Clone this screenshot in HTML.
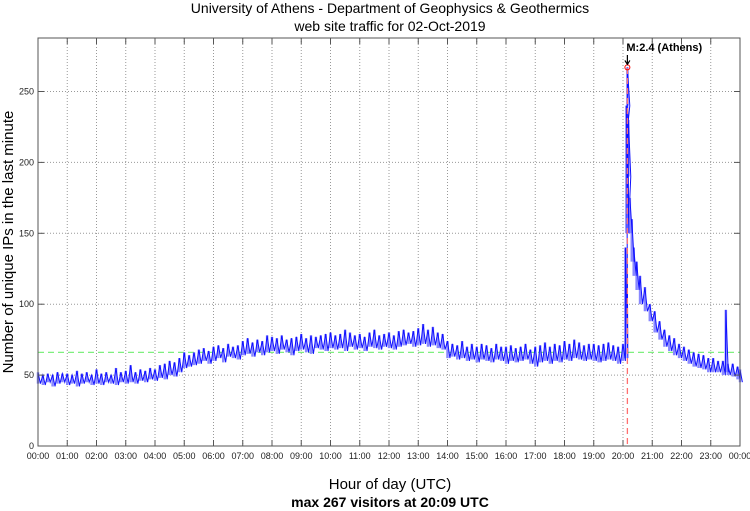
<!DOCTYPE html>
<html><head><meta charset="utf-8"><style>
html,body{margin:0;padding:0;background:#fff;}
svg{display:block;font-family:"Liberation Sans",sans-serif;}
</style></head><body>
<svg id="chart" width="750" height="511" viewBox="0 0 750 511" xmlns="http://www.w3.org/2000/svg">
<text x="390" y="13" font-size="14" text-anchor="middle">University of Athens - Department of Geophysics &amp; Geothermics</text>
<text x="390" y="31" font-size="14" text-anchor="middle">web site traffic for 02-Oct-2019</text>
<text x="390" y="489" font-size="15" text-anchor="middle">Hour of day (UTC)</text>
<text x="390" y="507" font-size="14" font-weight="bold" text-anchor="middle">max 267 visitors at 20:09 UTC</text>
<text transform="translate(13,242) rotate(-90)" font-size="15" text-anchor="middle">Number of unique IPs in the last minute</text>
<g id="grid"></g>
<g id="series"></g>
<g id="frame"></g>
</svg>
<script>
const xTickLabels=["00:00","01:00","02:00","03:00","04:00","05:00","06:00","07:00","08:00","09:00","10:00","11:00","12:00","13:00","14:00","15:00","16:00","17:00","18:00","19:00","20:00","21:00","22:00","23:00","00:00"];
const yTicks=[0,50,100,150,200,250];
const minutes=[0,10,20,30,40,50,60,70,80,90,100,110,120,130,140,150,160,170,180,190,200,210,220,230,240,250,260,270,280,290,300,310,320,330,340,350,360,370,380,390,400,410,420,430,440,450,460,470,480,490,500,510,520,530,540,550,560,570,580,590,600,610,620,630,640,650,660,670,680,690,700,710,720,730,740,750,760,770,780,790,800,810,820,830,840,850,860,870,880,890,900,910,920,930,940,950,960,970,980,990,1000,1010,1020,1030,1040,1050,1060,1070,1080,1090,1100,1110,1120,1130,1140,1150,1160,1170,1180,1190,1200,1205,1207,1209,1211,1214,1218,1222,1228,1235,1245,1255,1265,1275,1285,1295,1305,1315,1325,1335,1345,1355,1365,1375,1385,1395,1405,1411,1415,1425,1435,1440];
const lowVals=[44,43,45,42,44,45,43,44,42,44,45,43,44,43,45,44,43,45,44,45,44,46,45,47,46,48,47,50,49,52,55,56,57,58,60,58,60,62,59,63,62,61,64,65,63,66,64,66,67,65,68,66,64,67,68,66,65,69,68,67,69,68,69,67,70,68,69,67,70,69,68,70,69,68,70,71,72,70,71,72,70,71,69,68,62,63,61,62,60,61,59,61,60,59,61,60,58,60,59,60,61,58,56,59,60,58,60,59,61,60,62,61,60,61,60,59,60,61,60,58,60,62,150,240,190,150,130,120,110,100,95,88,80,75,70,67,64,62,60,58,56,55,54,52,52,52,50,52,50,49,47,45];
const highVals=[52,50,51,50,52,51,51,50,53,51,52,50,54,51,52,50,55,52,53,57,52,54,53,55,54,57,58,60,59,62,66,64,66,68,69,67,70,71,69,72,70,71,74,76,73,75,74,78,77,76,78,75,76,77,79,76,78,77,78,79,80,78,79,82,80,78,79,77,80,82,78,79,80,78,81,82,80,81,83,86,82,84,80,79,74,72,71,74,70,72,70,72,71,69,72,70,70,71,69,70,72,68,70,71,73,70,72,71,74,72,75,73,71,72,72,71,72,73,71,70,72,140,240,267,230,175,160,140,130,120,112,100,95,88,82,78,76,72,70,68,66,65,64,62,62,60,60,96,58,58,56,54];
const meanLine=66;
const peakMinute=1209, peakValue=267;

const NS="http://www.w3.org/2000/svg";
const L=38,R=740,T=38,B=446;
const xs=m=>L+(R-L)*m/1440;
const ys=v=>B-v*1.418;
function mk(tag,attrs,parent){const e=document.createElementNS(NS,tag);for(const k in attrs)e.setAttribute(k,attrs[k]);parent.appendChild(e);return e;}
const grid=document.getElementById('grid'),series=document.getElementById('series'),frame=document.getElementById('frame');

xTickLabels.forEach((lab,i)=>{
  const x=xs(i*60);
  if(i>0&&i<24){const g=mk('line',{x1:x,x2:x,y1:T,y2:B,stroke:'#999','stroke-width':1,'stroke-dasharray':'1,2'},grid);
  
  }
  const tk1=mk('line',{x1:x,x2:x,y1:B,y2:B-6,stroke:'#555','stroke-width':1},frame);
  
  
  const tk2=mk('line',{x1:x,x2:x,y1:T,y2:T+6,stroke:'#555','stroke-width':1},frame);
  
  
  const t=mk('text',{x:x,y:B+13,'font-size':9,'text-anchor':'middle',fill:'#222'},frame);
  t.textContent=lab;
  
  
});
yTicks.forEach(v=>{
  const y=ys(v);
  if(v>0){const g=mk('line',{x1:L,x2:R,y1:y,y2:y,stroke:'#999','stroke-width':1,'stroke-dasharray':'1,2'},grid);
  
  }
  const tk=mk('line',{x1:L,x2:L+6,y1:y,y2:y,stroke:'#555'},frame);
  
  
  const tk2=mk('line',{x1:R,x2:R-6,y1:y,y2:y,stroke:'#555'},frame);
  
  
  const t=mk('text',{x:L-4,y:y+3,'font-size':9,'text-anchor':'end',fill:'#222'},frame);
  t.textContent=v;
  
  
});
const fr=mk('rect',{x:L,y:T,width:R-L,height:B-T,fill:'none',stroke:'#555','stroke-width':1},frame);



const ml=mk('line',{x1:L,x2:R,y1:ys(meanLine),y2:ys(meanLine),stroke:'#7fef7f','stroke-width':1.3,'stroke-dasharray':'6,4'},series);



let band='',zig=[];
minutes.forEach((m,i)=>{
  const x=xs(m);
  band+=`M${x},${ys(lowVals[i])}L${x},${ys(highVals[i])}`;
  zig.push(`${x},${ys(highVals[i])}`);
  zig.push(`${x+2.4},${ys(lowVals[i])}`);
});
const bp=mk('path',{d:band,stroke:'#8888ff','stroke-width':2.5,fill:'none'},series);


const zp=mk('polyline',{points:zig.join(' '),stroke:'#1010ff','stroke-width':1,fill:'none'},series);



const px=xs(peakMinute);
const rl=mk('line',{x1:px,x2:px,y1:T+30,y2:B,stroke:'#ff7070','stroke-width':1.3,'stroke-dasharray':'6,4'},series);


const pc=mk('circle',{cx:px,cy:ys(peakValue),r:2.5,fill:'none',stroke:'#f00','stroke-width':1},series);


const ar=mk('path',{d:`M${px},${T+17}L${px},${ys(peakValue)-3}M${px-2.5},${ys(peakValue)-7}L${px},${ys(peakValue)-3}L${px+2.5},${ys(peakValue)-7}`,stroke:'#000','stroke-width':1.2,fill:'none'},series);


const lb=mk('text',{x:px-1,y:T+13,'font-size':11,'font-weight':'bold',fill:'#000'},series);
lb.textContent='M:2.4 (Athens)';


</script>
</body></html>
